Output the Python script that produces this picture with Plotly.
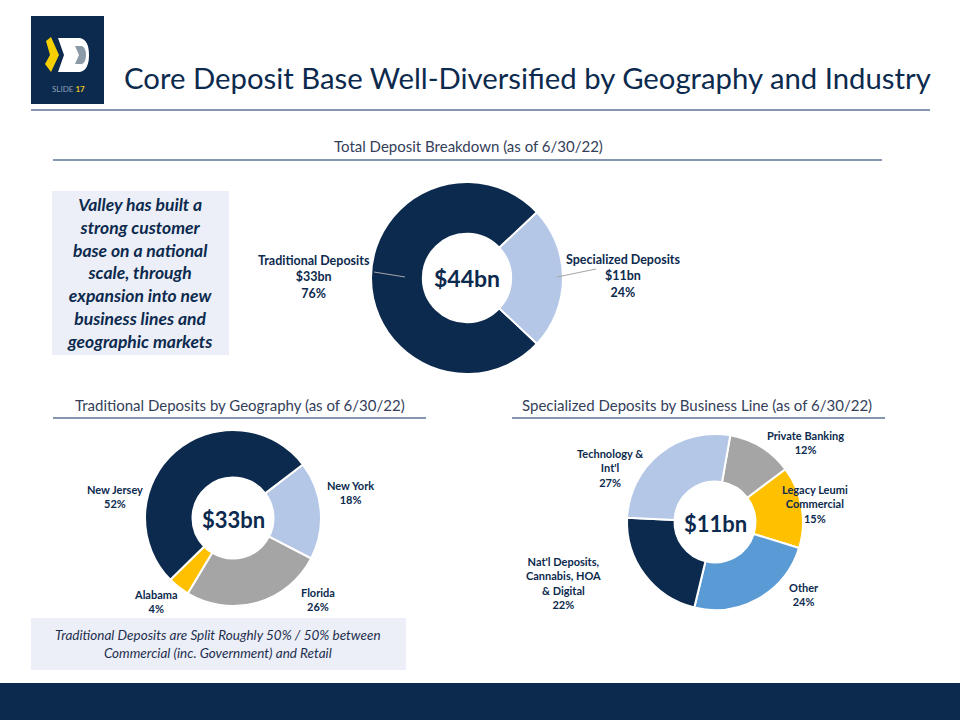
import plotly.graph_objects as go

W, H = 960, 720

# ---- data ----
total_labels = ["Traditional Deposits", "Specialized Deposits"]
total_amounts = [33, 11]  # $bn
total_pct = [76, 24]

geo_labels = ["New York", "Florida", "Alabama", "New Jersey"]
geo_pct = [18, 26, 4, 52]

biz_labels = ["Private Banking", "Legacy Leumi<br>Commercial", "Other",
              "Nat'l Deposits,<br>Cannabis, HOA<br>& Digital", "Technology &<br>Int'l"]
biz_pct = [12, 15, 24, 22, 27]

# ---- styles ----
NAVY = "#0C2A4E"
LIGHT = "#B4C7E7"
GRAY = "#A5A5A5"
YELLOW = "#FFC000"
MIDBLUE = "#5B9BD5"
RULE = "#8496B0"
FONT = "Lato"


def dom(cx, cy, r):
    return dict(x=[(cx - r) / W, (cx + r) / W], y=[1 - (cy + r) / H, 1 - (cy - r) / H])


def donut(values, labels, colors, rotation, cx, cy, r):
    return go.Pie(values=values, labels=labels, sort=False, direction="clockwise",
                  rotation=rotation, hole=0.46, textinfo="none", showlegend=False,
                  marker=dict(colors=colors, line=dict(color="white", width=2)),
                  domain=dom(cx, cy, r), hoverinfo="label+percent")


fig = go.Figure()
fig.add_trace(donut(total_pct, total_labels, [NAVY, LIGHT], 133.2, 467, 278, 96))
fig.add_trace(donut(geo_pct, geo_labels, [LIGHT, GRAY, YELLOW, NAVY], 52.6, 233, 518, 88))
fig.add_trace(donut(biz_pct, biz_labels, [GRAY, YELLOW, MIDBLUE, NAVY, LIGHT], 10, 715, 522, 88))

shapes = []
ann = []


def rect(x0, y0, x1, y1, color):
    shapes.append(dict(type="rect", xref="x", yref="y", x0=x0, y0=y0, x1=x1, y1=y1,
                       fillcolor=color, line=dict(width=0), layer="below"))


def hline(x0, x1, y, color=RULE, w=2):
    shapes.append(dict(type="line", xref="x", yref="y", x0=x0, x1=x1, y0=y, y1=y,
                       line=dict(color=color, width=w)))


def text(x, y, s, size, color=NAVY, xanchor="center", family=FONT):
    ann.append(dict(x=x, y=y, xref="x", yref="y", text=s, showarrow=False,
                    xanchor=xanchor, yanchor="middle", align="center",
                    font=dict(size=size, color=color, family=family)))


# logo box
rect(31, 16, 104, 104, NAVY)
shapes.append(dict(type="path", xref="x", yref="y", fillcolor="#F5D000", line=dict(width=0),
                   path="M 46 41 L 51 37 L 59 55 L 51 72 L 45 64 L 50 55 Z"))
shapes.append(dict(type="path", xref="x", yref="y", fillcolor="white", line=dict(width=0),
                   path="M 58 38 L 80 38 Q 89 40 89 55 Q 89 70 80 72 L 58 72 L 64 55 Z"))
shapes.append(dict(type="path", xref="x", yref="y", fillcolor="#8C9AA8", line=dict(width=0),
                   path="M 75 46 L 82 46 Q 86 48 86 55 Q 86 62 82 64 L 75 64 L 79 55 Z"))
text(68, 89, "<span style='color:#8EA0B8'>SLIDE</span> <b><span style='color:#E8C21E'>17</span></b>", 8)

# header
text(122, 77, "Core Deposit Base Well-Diversified by Geography and Industry", 29.3, xanchor="left")
hline(31, 930, 110)

# section titles
text(468, 146, "Total Deposit Breakdown (as of 6/30/22)", 15, color="#34405A")
hline(53, 882, 160)
text(240, 405, "Traditional Deposits by Geography (as of 6/30/22)", 15, color="#34405A")
hline(53, 426, 418)
text(697, 405, "Specialized Deposits by Business Line (as of 6/30/22)", 15, color="#34405A")
hline(512, 885, 418)

# left callout
rect(52, 191, 229, 355, "#ECEFF7")
text(140, 273, "<b><i>Valley has built a<br>strong customer<br>base on a national<br>scale, through<br>"
     "expansion into new<br>business lines and<br>geographic markets</i></b>", 17.5)

# bottom note
rect(31, 618, 406, 670, "#ECEFF7")
text(218, 644, "<i>Traditional Deposits are Split Roughly 50% / 50% between<br>"
     "Commercial (inc. Government) and Retail</i>", 13.5, color="#1F2F4F")

# footer band
rect(0, 683, 960, 720, NAVY)

# donut centers
text(467, 278, f"<b>${sum(total_amounts)}bn</b>", 23)
text(233, 519, f"<b>${total_amounts[0]}bn</b>", 22)
text(715, 523, f"<b>${total_amounts[1]}bn</b>", 22)

# top donut labels + leader lines
top_pos = [(314, 277), (623, 276)]
for (x, y), lab, amt, p in zip(top_pos, total_labels, total_amounts, total_pct):
    text(x, y, f"<b>{lab}<br>${amt}bn<br>{p}%</b>", 12.5)
shapes.append(dict(type="line", xref="x", yref="y", x0=374, y0=272, x1=405, y1=277,
                   line=dict(color="#A6A6A6", width=1)))
shapes.append(dict(type="line", xref="x", yref="y", x0=557, y0=277, x1=596, y1=269,
                   line=dict(color="#A6A6A6", width=1)))

# geography labels
geo_pos = [(350, 492), (318, 599), (156, 601), (115, 496)]
for (x, y), lab, p in zip(geo_pos, geo_labels, geo_pct):
    text(x, y, f"<b>{lab}<br>{p}%</b>", 11)

# business line labels
biz_pos = [(805, 442), (815, 504), (804, 594), (563, 583), (610, 468)]
for (x, y), lab, p in zip(biz_pos, biz_labels, biz_pct):
    text(x, y, f"<b>{lab}<br>{p}%</b>", 11)

fig.update_layout(
    width=W, height=H, margin=dict(l=0, r=0, t=0, b=0),
    paper_bgcolor="white", plot_bgcolor="rgba(0,0,0,0)",
    xaxis=dict(range=[0, W], visible=False, fixedrange=True),
    yaxis=dict(range=[H, 0], visible=False, fixedrange=True),
    shapes=shapes, annotations=ann,
)

fig.write_html("out.html", config={"displayModeBar": False},
               post_script="document.body.style.margin='0';")
